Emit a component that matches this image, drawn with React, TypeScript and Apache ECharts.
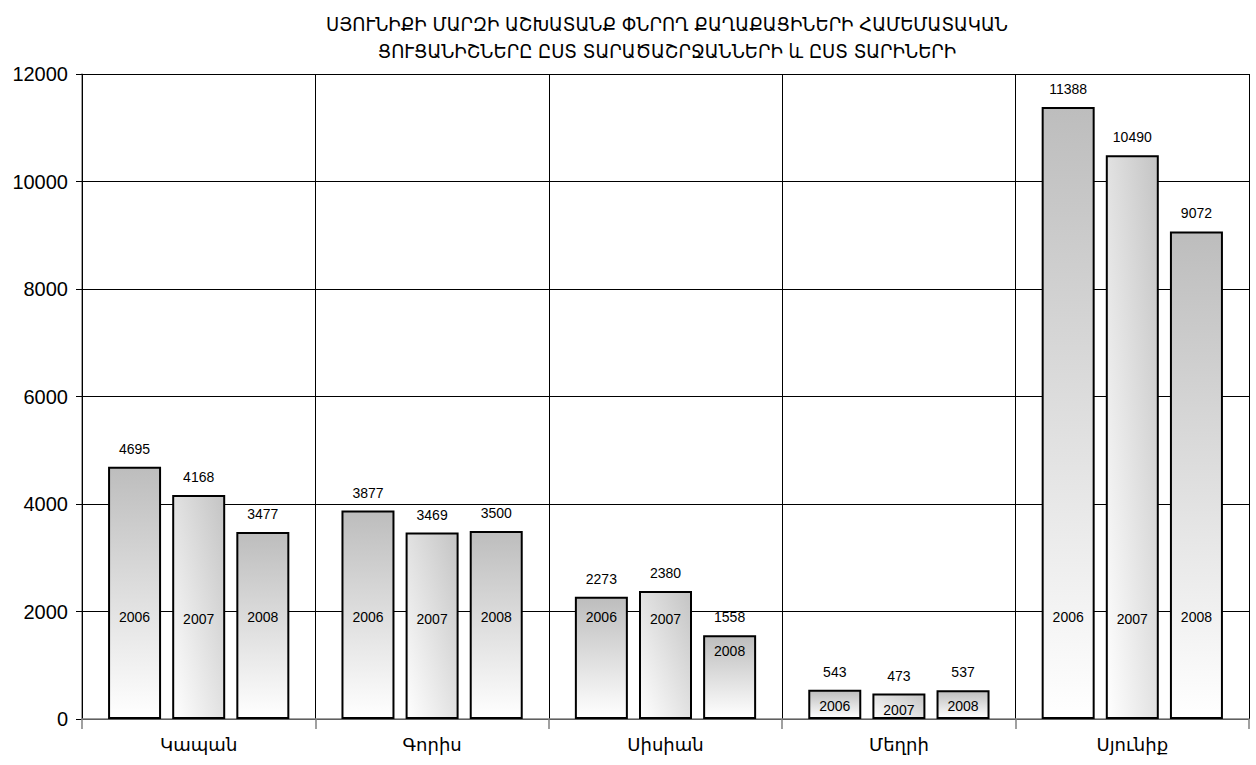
import React, { useEffect, useRef } from "react";
import * as echarts from "echarts";

const titleLines = [
  "ՍՅՈՒՆԻՔԻ ՄԱՐԶԻ ԱՇԽԱՏԱՆՔ ՓՆՐՈՂ ՔԱՂԱՔԱՑԻՆԵՐԻ ՀԱՄԵՄԱՏԱԿԱՆ",
  "ՑՈՒՑԱՆԻՇՆԵՐԸ ԸՍՏ ՏԱՐԱԾԱՇՐՋԱՆՆԵՐԻ և ԸՍՏ ՏԱՐԻՆԵՐԻ",
];
const categories = ["Կապան", "Գորիս", "Սիսիան", "Մեղրի", "Սյունիք"];
const years = ["2006", "2007", "2008"];
const values2006 = [4695, 3877, 2273, 543, 11388];
const values2007 = [4168, 3469, 2380, 473, 10490];
const values2008 = [3477, 3500, 1558, 537, 9072];
const yTicks = [0, 2000, 4000, 6000, 8000, 10000, 12000];
// level (in axis units) at which the year captions sit inside tall bars
const yearLabelLevels = [2200, 2150, 2200];

const FONT = "'Liberation Sans', Arial, 'DejaVu Sans', sans-serif";

const verticalGrad = () =>
  new echarts.graphic.LinearGradient(0, 0, 0, 1, [
    { offset: 0, color: "#bdbdbd" },
    { offset: 1, color: "#ffffff" },
  ]);
const diagonalGrad = () =>
  new echarts.graphic.LinearGradient(1, 0, 0, 1, [
    { offset: 0, color: "#c4c4c4" },
    { offset: 1, color: "#ffffff" },
  ]);

export default function App() {
  const ref = useRef<HTMLDivElement>(null);
  useEffect(() => {
    if (!ref.current) return;
    const chart = echarts.init(ref.current, null, { renderer: "svg" });
    const allValues = [values2006, values2007, values2008];
    const fills = [verticalGrad(), diagonalGrad(), verticalGrad()];
    const barCommon = { barWidth: 53, barGap: "21%" };

    const mainSeries = allValues.map((vals, i) => ({
      name: years[i],
      type: "bar",
      xAxisIndex: 0,
      ...barCommon,
      data: vals,
      itemStyle: { color: fills[i], borderColor: "#000", borderWidth: 2 },
      label: {
        show: true,
        position: "top",
        distance: 11,
        fontSize: 14,
        fontFamily: FONT,
        color: "#000",
      },
      z: 2,
    }));

    const yearSeries = allValues.map((vals, i) => ({
      name: years[i] + "-label",
      type: "bar",
      xAxisIndex: 1,
      ...barCommon,
      silent: true,
      data: vals.map((v) => Math.min(v, yearLabelLevels[i])),
      itemStyle: { color: "rgba(0,0,0,0)", borderWidth: 0 },
      label: {
        show: true,
        position: "insideTop",
        distance: 9,
        formatter: () => years[i],
        fontSize: 14,
        fontFamily: FONT,
        color: "#000",
      },
      z: 3,
    }));

    chart.setOption({
      animation: false,
      title: {
        text: titleLines.join("\n"),
        left: 662,
        textAlign: "center",
        top: 5,
        textStyle: {
          fontSize: 20,
          fontWeight: "normal",
          lineHeight: 27,
          color: "#000",
          fontFamily: "'DejaVu Sans Condensed', 'DejaVu Sans', sans-serif",
        },
      },
      grid: { left: 82, right: 7, top: 74, bottom: 46, containLabel: false },
      xAxis: [
        {
          type: "category",
          data: categories,
          axisLine: { show: true, lineStyle: { color: "#808080", width: 1.5 } },
          axisTick: { show: true, length: 10, lineStyle: { color: "#808080", width: 1.5 } },
          axisLabel: { fontSize: 18, fontFamily: FONT, color: "#000", margin: 17 },
          splitLine: { show: true, lineStyle: { color: "#000", width: 1 } },
          z: 1,
        },
        {
          type: "category",
          data: categories,
          show: false,
        },
      ],
      yAxis: {
        type: "value",
        min: 0,
        max: yTicks[yTicks.length - 1],
        interval: 2000,
        axisLine: { show: true, lineStyle: { color: "#808080", width: 1.5 } },
        axisTick: { show: true, length: 6, lineStyle: { color: "#000" } },
        axisLabel: {
          fontSize: 20,
          fontFamily: FONT,
          color: "#000",
          margin: 14,
          formatter: (v: number) => String(v),
        },
        splitLine: { show: true, lineStyle: { color: "#000", width: 1 } },
      },
      series: [...mainSeries, ...yearSeries],
    });
    return () => chart.dispose();
  }, []);
  return (
    <div
      ref={ref}
      style={{ position: "absolute", left: 0, top: 0, width: 1256, height: 765, background: "#fff" }}
    />
  );
}
